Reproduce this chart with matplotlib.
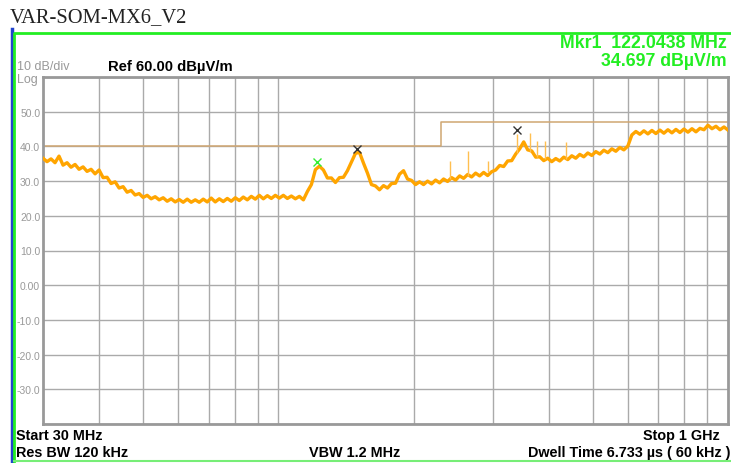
import numpy as np
import matplotlib
matplotlib.use("Agg")
import matplotlib.pyplot as plt
from matplotlib.lines import Line2D

plt.rcParams['font.family'] = ['Liberation Sans', 'DejaVu Sans']

# trace readings, one every ~4 px across the log sweep 30 MHz .. 1 GHz
level = [36.6, 35.6, 36.4, 35.3, 37.2, 34.6, 35.3, 34.0, 34.8, 33.4,
         34.1, 32.8, 33.4, 32.1, 33.2, 31.0, 31.1, 29.3, 29.8, 28.0,
         28.4, 26.8, 27.3, 26.0, 26.4, 25.3, 25.9, 24.9, 25.5, 24.6,
         25.2, 24.2, 24.9, 24.0, 24.7, 23.9, 24.8, 23.9, 24.6, 23.9,
         24.8, 24.0, 25.1, 24.0, 24.9, 24.1, 25.0, 24.2, 25.2, 24.4,
         25.4, 24.6, 25.6, 24.8, 25.9, 24.9, 25.8, 25.0, 25.9, 25.1,
         25.9, 25.0, 25.7, 24.9, 25.6, 24.6, 27.0, 29.0, 33.3, 34.3,
         33.2, 30.9, 30.9, 29.6, 31.0, 31.1, 33.0, 35.5, 38.0, 38.3,
         35.2, 32.3, 29.0, 28.6, 27.5, 28.7, 28.0, 29.3, 29.4, 32.0,
         33.0, 30.6, 30.2, 29.0, 29.8, 29.0, 30.0, 29.2, 30.3, 29.5,
         30.6, 29.9, 31.0, 30.3, 31.5, 30.8, 31.9, 31.2, 32.3, 31.5,
         32.5, 31.6, 32.7, 33.2, 34.5, 34.2, 35.8, 35.9, 37.8, 39.3,
         41.3, 39.0, 38.7, 36.9, 37.0, 35.9, 36.6, 35.6, 36.5, 35.8,
         36.9, 36.2, 37.3, 36.6, 37.7, 37.0, 38.1, 37.4, 38.5, 37.8,
         38.9, 38.2, 39.3, 38.6, 39.7, 39.0, 40.1, 43.3, 44.3, 43.5,
         44.5, 43.6, 44.6, 43.7, 44.7, 43.8, 44.8, 43.9, 44.9, 44.0,
         45.0, 44.1, 45.1, 44.2, 45.2, 44.8, 46.1, 45.1, 45.8, 44.8,
         45.6, 44.7]
freq = np.geomspace(30, 1000, len(level))

# narrow spurs sticking out of the trace
spur_freq = [241, 264, 293, 340, 363, 376, 392, 436]
spur_base = [30.5, 31.5, 32.5, 38.0, 38.5, 37.0, 36.5, 36.5]
spur_top = [35.8, 38.7, 35.8, 43.6, 44.0, 41.6, 41.6, 41.3]

# limit line
limit_freq = [30, 230, 230, 1000]
limit_level = [40, 40, 47, 47]

# markers
mkr_freq = [122.04, 150.0, 340.0]
mkr_level = [35.4, 39.2, 44.7]
mkr_color = ['#33ee33', '#333333', '#333333']

xgrid = [40, 50, 60, 70, 80, 90, 100, 200, 300, 400, 500, 600, 700, 800, 900]
yticks = list(range(-40, 61, 10))
ylabels = ['', '-30.0', '-20.0', '-10.0', '0.00', '10.0', '20.0', '30.0',
           '40.0', '50.0', '']

fig = plt.figure(figsize=(7.31, 4.64), dpi=100)
ax = fig.add_axes([43 / 731, 1 - 425 / 464, 685 / 731, 347 / 464])

ax.plot(limit_freq, limit_level, color='#d0a772', lw=1.1, zorder=2)
ax.plot(freq, level, color='#ffa500', lw=2.4, zorder=3)
ax.vlines(spur_freq, spur_base, spur_top, color='#ffbf50', lw=1.0, zorder=3)
for f, l, c in zip(mkr_freq, mkr_level, mkr_color):
    ax.plot(f, l, marker='x', color=c, ms=6, mew=1.0, zorder=4)

ax.set_xscale('log')
ax.set_xlim(30, 1000)
ax.set_ylim(-40, 60)
ax.set_xticks(xgrid)
ax.set_xticks([], minor=True)
ax.set_xticklabels([])
ax.set_yticks(yticks)
ax.set_yticklabels(ylabels, color='#999999', fontsize=7.5)
ax.tick_params(length=0, pad=2)
ax.grid(True, color='#aaaaaa', lw=1.0)
for side in ['left', 'bottom', 'top', 'right']:
    ax.spines[side].set_color('#999999')
    ax.spines[side].set_linewidth(2.0)

# frame of the analyzer screen
fig.add_artist(Line2D([11.5 / 731, 11.5 / 731], [0, 1 - 30 / 464],
                      transform=fig.transFigure, color='#2244cc', lw=2.5))
fig.add_artist(Line2D([14 / 731, 14 / 731, 1], [2 / 464, 1 - 34 / 464, 1 - 34 / 464],
                      transform=fig.transFigure, color='#22ee22', lw=2.0))
fig.add_artist(Line2D([14 / 731, 1], [2 / 464, 2 / 464],
                      transform=fig.transFigure, color='#77ee77', lw=1.5))

fig.text(10 / 731, 1 - 18 / 464, 'VAR-SOM-MX6_V2', family='Liberation Serif',
         fontsize=14.8, va='center', color='#222222')
fig.text(17 / 731, 1 - 67 / 464, '10 dB/div', fontsize=9, color='#999999', va='center')
fig.text(17 / 731, 1 - 80 / 464, 'Log', fontsize=9, color='#999999', va='center')
fig.text(108 / 731, 1 - 67 / 464, 'Ref 60.00 dBµV/m', fontsize=10.6, weight='bold', va='center')
fig.text(727 / 731, 1 - 44 / 464, 'Mkr1  122.0438 MHz', fontsize=12.8, weight='bold',
         color='#22ee22', ha='right', va='center')
fig.text(727 / 731, 1 - 62 / 464, '34.697 dBµV/m', fontsize=12.8, weight='bold',
         color='#22ee22', ha='right', va='center')

fig.text(16 / 731, 1 - 436 / 464, 'Start 30 MHz', fontsize=10.4, weight='bold', va='center')
fig.text(16 / 731, 1 - 453 / 464, 'Res BW 120 kHz', fontsize=10.4, weight='bold', va='center')
fig.text(355 / 731, 1 - 453 / 464, 'VBW 1.2 MHz', fontsize=10.4, weight='bold',
         ha='center', va='center')
fig.text(720 / 731, 1 - 436 / 464, 'Stop 1 GHz', fontsize=10.4, weight='bold',
         ha='right', va='center')
fig.text(731 / 731, 1 - 453 / 464, 'Dwell Time 6.733 µs ( 60 kHz )', fontsize=10.4,
         weight='bold', ha='right', va='center')

fig.savefig('out.png', dpi=100)
